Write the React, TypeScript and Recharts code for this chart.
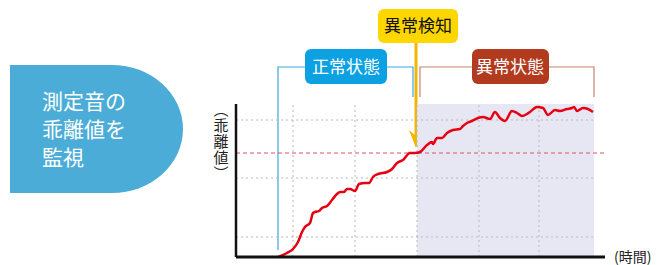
import React from 'react';
import {
  ComposedChart,
  Line,
  XAxis,
  YAxis,
  ReferenceLine,
  ReferenceArea,
  Customized,
} from 'recharts';

// time positions (arbitrary units) and deviation values
const times = [
  42, 51, 57, 62, 66, 69, 74, 77, 79, 83, 86, 91, 96, 101, 104, 108, 111, 114, 119, 123,
  129, 133, 137, 142, 151, 156, 161, 167, 174, 179, 184, 191, 196, 197, 201, 206, 211, 217,
  224, 227, 231, 236, 242, 247, 254, 259, 264, 269, 276, 281, 286, 291, 294, 301, 307, 312,
  319, 324, 331, 336, 338, 341, 347, 352, 357,
];
const deviation = [
  0, 4, 8, 15, 25, 30, 34, 44, 45, 46, 49, 51, 57, 63, 65, 65, 68, 68, 66, 73,
  74, 74, 80, 83, 85, 88, 94, 97, 104, 104, 105, 112, 115, 113, 119, 119, 124, 127,
  128, 131, 134, 136, 139, 140, 138, 145, 139, 136, 146, 144, 141, 143, 145, 150, 149, 142,
  147, 146, 148, 149, 150, 146, 149, 148, 145,
];
const threshold = 104;
const gridValues = [20, 79, 137];
const gridTimes = [57, 119, 181, 243, 303];
const detectTime = 181;
const endTime = 358;
const xDomain = [0, 369];
const yDomain = [0, 153];

const labels = {
  left: ['測定音の', '乖離値を', '監視'],
  yLabel: '（乖離値）',
  xLabel: '(時間)',
  normal: '正常状態',
  abnormal: '異常状態',
  detect: '異常検知',
  threshold: '閾値',
};

const data = times.map((t, i) => ({ x: t, y: deviation[i] }));

const FONT = '"Noto Sans CJK JP", "Noto Sans", sans-serif';

const Annotations = () => (
  <g style={{ fontFamily: FONT }}>
    {/* left blue badge */}
    <path d="M10,65 H112 A71,64 0 0 1 112,193 H10 Z" fill="#4BADD7" />
    {labels.left.map((t, i) => (
      <text key={t} x={42} y={109 + i * 28} fill="#fff" fontSize={21}>
        {t}
      </text>
    ))}
    {/* y label vertical */}
    <text
      x={221}
      y={102}
      fontSize={15}
      fill="#222"
      letterSpacing={1}
      style={{ writingMode: 'vertical-rl' }}
    >
      {labels.yLabel}
    </text>
    {/* x label */}
    <text x={614} y={262} fontSize={14} fill="#222">{labels.xLabel}</text>

    {/* normal bracket */}
    <polyline points="278,250 278,67 413,67 413,97" fill="none" stroke="#3AA8DC" strokeWidth={1.2} />
    <rect x={305} y={49} width={82} height={35} rx={6} fill="#0BA1E2" />
    <text x={346} y={73} fontSize={17} fill="#fff" textAnchor="middle">{labels.normal}</text>

    {/* abnormal bracket */}
    <polyline points="420,97 420,67 594,67 594,97" fill="none" stroke="#C8806F" strokeWidth={1.2} />
    <rect x={472} y={49} width={77} height={35} rx={6} fill="#B23A1F" />
    <text x={510} y={73} fontSize={17} fill="#fff" textAnchor="middle">{labels.abnormal}</text>

    {/* detection */}
    <line x1={416} y1={43} x2={416} y2={138} stroke="#F5B400" strokeWidth={3} />
    <polygon points="409,130 416,148 423,130 416,136" fill="#F5B400" />
    <rect x={378} y={9} width={80} height={34} rx={6} fill="#FFD700" />
    <text x={418} y={32} fontSize={17} fill="#111" textAnchor="middle">{labels.detect}</text>

    {/* threshold note */}
    <line x1={534} y1={194} x2={502} y2={164} stroke="#111" strokeWidth={1.2} />
    <polygon points="497,159 508,163 502,169" fill="#111" />
    <text x={541} y={209} fontSize={17} fill="#222">{labels.threshold}</text>
  </g>
);

export default function App() {
  return (
    <div style={{ position: 'absolute', left: 0, top: 0, width: 660, height: 265, background: '#fff' }}>
      <ComposedChart
        width={660}
        height={265}
        data={data}
        margin={{ top: 104, right: 55, bottom: 8, left: 236 }}
      >
        <XAxis type="number" dataKey="x" domain={xDomain} hide />
        <YAxis type="number" domain={yDomain} hide />
        <ReferenceArea x1={detectTime} x2={endTime} y1={yDomain[0]} y2={yDomain[1]} fill="#E7E7F3" fillOpacity={1} stroke="none" />
        {gridValues.map((v) => (
          <ReferenceLine
            key={'h' + v}
            segment={[{ x: 0, y: v }, { x: endTime, y: v }]}
            stroke="#B8B8B8"
            strokeDasharray="2 3"
          />
        ))}
        {gridTimes.map((t) => (
          <ReferenceLine key={'v' + t} x={t} stroke="#B8B8B8" strokeDasharray="2 3" />
        ))}
        <ReferenceLine y={threshold} stroke="#E0506A" strokeDasharray="4 3" />
        <Line
          type="monotone"
          dataKey="y"
          stroke="#E60012"
          strokeWidth={2.5}
          dot={false}
          isAnimationActive={false}
        />
        <ReferenceLine y={0} stroke="#111" strokeWidth={3} />
        <ReferenceLine x={0} stroke="#111" strokeWidth={2.5} />
        <Customized component={<Annotations />} />
      </ComposedChart>
    </div>
  );
}
